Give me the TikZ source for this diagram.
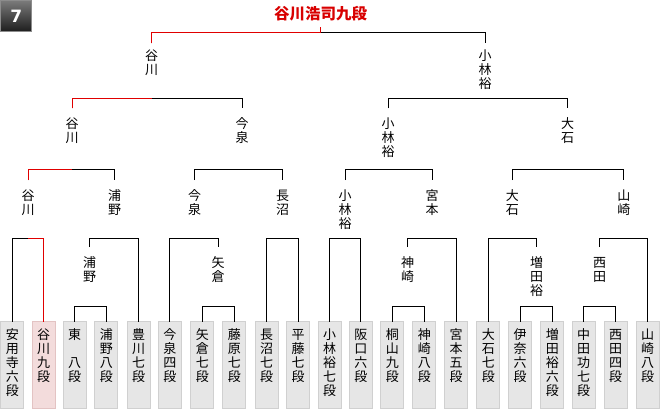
\documentclass[tikz,border=0pt]{standalone}
\usepackage{fontspec}
\newfontfamily\jp{Noto Sans CJK JP}
\newfontfamily\digitfont{DejaVu Sans}
\newcommand\tstrut{\rule{0pt}{12pt}}
\definecolor{winred}{HTML}{E00000}
\definecolor{titlered}{HTML}{D80000}
\definecolor{boxfill}{HTML}{E6E6E6}
\definecolor{boxline}{HTML}{D0D0D0}
\definecolor{pinkfill}{HTML}{F3DCDC}
\definecolor{pinkline}{HTML}{E3C3C3}
\definecolor{badgetop}{HTML}{7A7A7A}
\definecolor{badgebot}{HTML}{1C1C1C}
\definecolor{badgeline}{HTML}{8C8C8C}
\begin{document}
\begin{tikzpicture}[x=1pt,y=-1pt,
  leaf/.style={draw=boxline, fill=boxfill, line width=0.8pt, minimum width=23pt,
    minimum height=86.5pt, inner sep=0pt, outer sep=0pt, anchor=north},
  winleaf/.style={leaf, draw=pinkline, fill=pinkfill},
  vtext/.style={anchor=north, inner sep=0pt, outer sep=0pt, align=center,
    font=\jp\fontsize{13}{14}\selectfont},
  conn/.style={line width=1pt, draw=black},
  wconn/.style={line width=1pt, draw=winred},
  badge/.style={draw=badgeline, top color=badgetop, bottom color=badgebot,
    minimum size=31.3pt, inner sep=0pt, line width=1pt, text=white,
    font=\digitfont\bfseries\fontsize{17}{17}\selectfont},
  title/.style={anchor=base, inner sep=0pt, text=titlered,
    font=\jp\bfseries\fontsize{15.5}{16}\selectfont}]
\useasboundingbox (0,0) rectangle (660,410);

% badge and title
\node[badge] (badge) at (16.2,16.2) {7};
\node[title] (ttl) at (320.5,19.5) {谷川浩司九段};
\coordinate (tick) at (320.7,27.3);

% leaves
\node[leaf] (p0) at (12.3,321.5) {};
\node[winleaf] (p1) at (43.5,321.5) {};
\node[leaf] (p2) at (74.5,321.5) {};
\node[leaf] (p3) at (106.3,321.5) {};
\node[leaf] (p4) at (138.5,321.5) {};
\node[leaf] (p5) at (169.8,321.5) {};
\node[leaf] (p6) at (202.3,321.5) {};
\node[leaf] (p7) at (234.3,321.5) {};
\node[leaf] (p8) at (266.7,321.5) {};
\node[leaf] (p9) at (298,321.5) {};
\node[leaf] (p10) at (329.5,321.5) {};
\node[leaf] (p11) at (360.8,321.5) {};
\node[leaf] (p12) at (392.3,321.5) {};
\node[leaf] (p13) at (424.3,321.5) {};
\node[leaf] (p14) at (456.2,321.5) {};
\node[leaf] (p15) at (488.3,321.5) {};
\node[leaf] (p16) at (520,321.5) {};
\node[leaf] (p17) at (552.3,321.5) {};
\node[leaf] (p18) at (583.5,321.5) {};
\node[leaf] (p19) at (615.7,321.5) {};
\node[leaf] (p20) at (647.5,321.5) {};

\node[vtext] (t0) at ([yshift=-6.3pt]p0.north) {\tstrut 安\\用\\寺\\六\\段};
\node[vtext] (t1) at ([yshift=-6.3pt]p1.north) {\tstrut 谷\\川\\九\\段};
\node[vtext] (t2) at ([yshift=-6.3pt]p2.north) {\tstrut 東\\　\\八\\段};
\node[vtext] (t3) at ([yshift=-6.3pt]p3.north) {\tstrut 浦\\野\\八\\段};
\node[vtext] (t4) at ([yshift=-6.3pt]p4.north) {\tstrut 豊\\川\\七\\段};
\node[vtext] (t5) at ([yshift=-6.3pt]p5.north) {\tstrut 今\\泉\\四\\段};
\node[vtext] (t6) at ([yshift=-6.3pt]p6.north) {\tstrut 矢\\倉\\七\\段};
\node[vtext] (t7) at ([yshift=-6.3pt]p7.north) {\tstrut 藤\\原\\七\\段};
\node[vtext] (t8) at ([yshift=-6.3pt]p8.north) {\tstrut 長\\沼\\七\\段};
\node[vtext] (t9) at ([yshift=-6.3pt]p9.north) {\tstrut 平\\藤\\七\\段};
\node[vtext] (t10) at ([yshift=-6.3pt]p10.north) {\tstrut 小\\林\\裕\\七\\段};
\node[vtext] (t11) at ([yshift=-6.3pt]p11.north) {\tstrut 阪\\口\\六\\段};
\node[vtext] (t12) at ([yshift=-6.3pt]p12.north) {\tstrut 桐\\山\\九\\段};
\node[vtext] (t13) at ([yshift=-6.3pt]p13.north) {\tstrut 神\\崎\\八\\段};
\node[vtext] (t14) at ([yshift=-6.3pt]p14.north) {\tstrut 宮\\本\\五\\段};
\node[vtext] (t15) at ([yshift=-6.3pt]p15.north) {\tstrut 大\\石\\七\\段};
\node[vtext] (t16) at ([yshift=-6.3pt]p16.north) {\tstrut 伊\\奈\\六\\段};
\node[vtext] (t17) at ([yshift=-6.3pt]p17.north) {\tstrut 増\\田\\裕\\六\\段};
\node[vtext] (t18) at ([yshift=-6.3pt]p18.north) {\tstrut 中\\田\\功\\七\\段};
\node[vtext] (t19) at ([yshift=-6.3pt]p19.north) {\tstrut 西\\田\\四\\段};
\node[vtext] (t20) at ([yshift=-6.3pt]p20.north) {\tstrut 山\\崎\\八\\段};

% round-1 winners
\node[vtext] (a1) at (89.5,255.3) {\tstrut 浦\\野};
\node[vtext] (a2) at (218,255.3) {\tstrut 矢\\倉};
\node[vtext] (a3) at (407.5,255.3) {\tstrut 神\\崎};
\node[vtext] (a4) at (536.5,255.3) {\tstrut 増\\田\\裕};
\node[vtext] (a5) at (599.5,255.3) {\tstrut 西\\田};
% round-2 winners
\node[vtext] (q1) at (28,188.3) {\tstrut 谷\\川};
\node[vtext] (q2) at (114.5,188.3) {\tstrut 浦\\野};
\node[vtext] (q3) at (194.5,188.3) {\tstrut 今\\泉};
\node[vtext] (q4) at (282.5,188.3) {\tstrut 長\\沼};
\node[vtext] (q5) at (345,188.3) {\tstrut 小\\林\\裕};
\node[vtext] (q6) at (432,188.3) {\tstrut 宮\\本};
\node[vtext] (q7) at (512.3,188.3) {\tstrut 大\\石};
\node[vtext] (q8) at (623.8,188.3) {\tstrut 山\\崎};
% round-3 winners
\node[vtext] (s1) at (72,116.8) {\tstrut 谷\\川};
\node[vtext] (s2) at (242,116.8) {\tstrut 今\\泉};
\node[vtext] (s3) at (388,116.8) {\tstrut 小\\林\\裕};
\node[vtext] (s4) at (567.5,116.8) {\tstrut 大\\石};
% finalists
\node[vtext] (f1) at (151.5,48.8) {\tstrut 谷\\川};
\node[vtext] (f2) at (485,48.8) {\tstrut 小\\林\\裕};

% round 1 brackets
\draw[conn] (p2.north) |- (p3.north |- 0,306.7) -- (p3.north);
\draw[conn] (p6.north) |- (p7.north |- 0,306.7) -- (p7.north);
\draw[conn] (p12.north) |- (p13.north |- 0,306.7) -- (p13.north);
\draw[conn] (p16.north) |- (p17.north |- 0,306.7) -- (p17.north);
\draw[conn] (p18.north) |- (p19.north |- 0,306.7) -- (p19.north);

% round 2 brackets
\draw[conn] (p0.north) |- (p1.north |- 0,238.3) -- (p1.north);
\draw[conn] ([yshift=8.3pt]a1.north) |- (p4.north |- 0,238.3) -- (p4.north);
\draw[conn] (p5.north) |- (a2.north |- 0,238.3) -- ([yshift=8.3pt]a2.north);
\draw[conn] (p8.north) |- (p9.north |- 0,238.3) -- (p9.north);
\draw[conn] (p10.north) |- (p11.north |- 0,238.3) -- (p11.north);
\draw[conn] ([yshift=8.3pt]a3.north) |- (p14.north |- 0,238.3) -- (p14.north);
\draw[conn] (p15.north) |- (a4.north |- 0,238.3) -- ([yshift=8.3pt]a4.north);
\draw[conn] ([yshift=8.3pt]a5.north) |- (p20.north |- 0,238.3) -- (p20.north);

% quarter-final brackets
\draw[conn] ([yshift=8.3pt]q1.north) |- (q2.north |- 0,169.3) -- ([yshift=8.3pt]q2.north);
\draw[conn] ([yshift=8.3pt]q3.north) |- (q4.north |- 0,169.3) -- ([yshift=8.3pt]q4.north);
\draw[conn] ([yshift=8.3pt]q5.north) |- (q6.north |- 0,169.3) -- ([yshift=8.3pt]q6.north);
\draw[conn] ([yshift=8.3pt]q7.north) |- (q8.north |- 0,169.3) -- ([yshift=8.3pt]q8.north);

% semi-final brackets
\draw[conn] ([yshift=8.5pt]s1.north) |- (s2.north |- 0,98.3) -- ([yshift=8.5pt]s2.north);
\draw[conn] ([yshift=8.5pt]s3.north) |- (s4.north |- 0,98.3) -- ([yshift=8.5pt]s4.north);

% final bracket
\draw[conn] ([yshift=5.5pt]f1.north) |- (f2.north |- 0,32.3) -- ([yshift=5.5pt]f2.north);

% winner path
\draw[wconn] (p1.north) |- (q1.north |- 0,238.3);
\draw[wconn] ([yshift=8.3pt]q1.north) |- (s1.north |- 0,169.3);
\draw[wconn] ([yshift=8.5pt]s1.north) |- (f1.north |- 0,98.3);
\draw[wconn] ([yshift=5.5pt]f1.north) |- (tick |- 0,32.3) -- (tick);
\end{tikzpicture}
\end{document}
